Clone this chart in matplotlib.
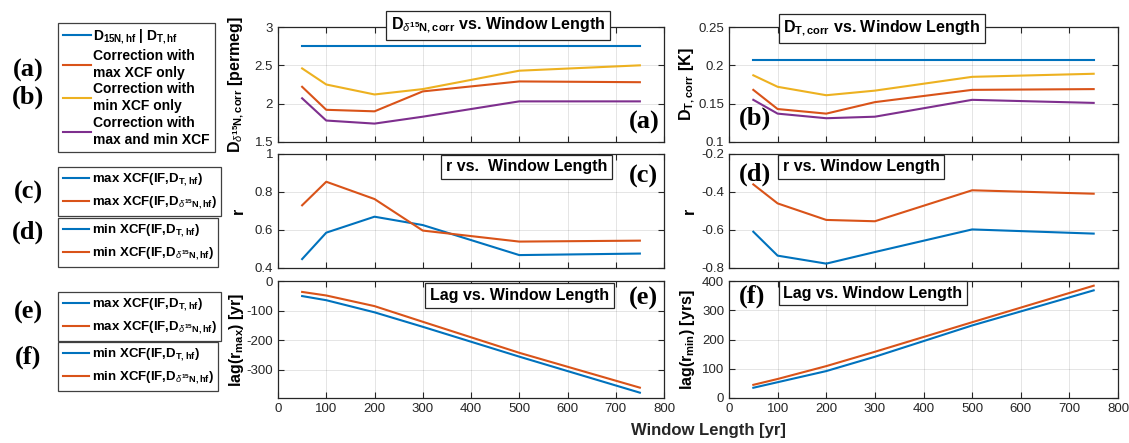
import matplotlib
matplotlib.use("Agg")
import matplotlib.pyplot as plt
from matplotlib.lines import Line2D
from matplotlib.ticker import FuncFormatter, MultipleLocator

plt.rcParams['font.family'] = ['Liberation Sans', 'DejaVu Sans']
plt.rcParams['mathtext.fontset'] = 'custom'
plt.rcParams['mathtext.rm'] = 'Liberation Sans'
plt.rcParams['mathtext.bf'] = 'Liberation Sans:bold'
plt.rcParams['mathtext.it'] = 'Liberation Sans:italic'
plt.rcParams['mathtext.default'] = 'bf'
plt.rcParams['axes.unicode_minus'] = False

# ---------------- data ----------------
window = [50, 100, 200, 300, 500, 750]

# (a) D_delta15N,corr [permeg]
d15_hf = [2.75, 2.75, 2.75, 2.75, 2.75, 2.75]
d15_max = [2.22, 1.92, 1.90, 2.16, 2.29, 2.28]
d15_min = [2.46, 2.25, 2.12, 2.19, 2.43, 2.50]
d15_both = [2.07, 1.78, 1.74, 1.83, 2.03, 2.03]

# (b) D_T,corr [K]
dT_hf = [0.2076, 0.2076, 0.2076, 0.2076, 0.2076, 0.2076]
dT_max = [0.168, 0.143, 0.137, 0.152, 0.168, 0.169]
dT_min = [0.187, 0.172, 0.161, 0.167, 0.185, 0.189]
dT_both = [0.155, 0.137, 0.131, 0.133, 0.155, 0.151]

# (c) r of max XCF
r_max_T = [0.447, 0.586, 0.670, 0.626, 0.468, 0.476]
r_max_d15 = [0.730, 0.854, 0.763, 0.597, 0.539, 0.544]

# (d) r of min XCF
r_min_T = [-0.609, -0.735, -0.777, -0.716, -0.597, -0.619]
r_min_d15 = [-0.360, -0.460, -0.547, -0.554, -0.391, -0.409]

# (e) lag of r_max [yr]
lag_max_T = [-51, -65, -106, -155, -256, -378]
lag_max_d15 = [-37, -49, -85, -138, -243, -361]

# (f) lag of r_min [yrs]
lag_min_T = [35, 54, 92, 141, 248, 368]
lag_min_d15 = [45, 65, 109, 158, 259, 384]

xticks = [0, 100, 200, 300, 400, 500, 600, 700, 800]

# ---------------- style ----------------
C_BLUE = '#0072BD'
C_ORANGE = '#D95319'
C_YELLOW = '#EDB120'
C_PURPLE = '#7E2F8E'
LW = 1.5
TXT = '#262626'

W, H = 1129, 443
fig = plt.figure(figsize=(W / 100, H / 100), dpi=100)


def ax_at(x0, x1, y0, y1):
    return fig.add_axes([x0 / W, 1 - y1 / H, (x1 - x0) / W, (y1 - y0) / H])


LX = (278, 664)
RX = (729, 1118)
R1 = (27, 142)
R2 = (154, 268)
R3 = (281, 398)

axes = {
    'a': ax_at(*LX, *R1), 'b': ax_at(*RX, *R1),
    'c': ax_at(*LX, *R2), 'd': ax_at(*RX, *R2),
    'e': ax_at(*LX, *R3), 'f': ax_at(*RX, *R3),
}

fmt = FuncFormatter(lambda v, p: '%g' % round(v, 6))

for k, ax in axes.items():
    ax.set_xlim(0, 800)
    ax.set_xticks(xticks)
    ax.grid(True, color='#000000', alpha=0.12, linewidth=0.6)
    ax.tick_params(direction='in', top=True, right=True, labelsize=9.5,
                   colors=TXT, length=4, width=0.8)
    for s in ax.spines.values():
        s.set_color(TXT)
        s.set_linewidth(0.9)
    ax.yaxis.set_major_formatter(fmt)
    if k not in ('e', 'f'):
        ax.tick_params(labelbottom=False)

# (a)
ax = axes['a']
ax.plot(window, d15_hf, color=C_BLUE, lw=LW)
ax.plot(window, d15_max, color=C_ORANGE, lw=LW)
ax.plot(window, d15_min, color=C_YELLOW, lw=LW)
ax.plot(window, d15_both, color=C_PURPLE, lw=LW)
ax.set_ylim(1.5, 3)
ax.yaxis.set_major_locator(MultipleLocator(0.5))
ax.set_ylabel(r'D$_{\mathit{\delta}^{15}N,corr}$ [permeg]', fontsize=11.5, fontweight='bold')

# (b)
ax = axes['b']
ax.plot(window, dT_hf, color=C_BLUE, lw=LW)
ax.plot(window, dT_max, color=C_ORANGE, lw=LW)
ax.plot(window, dT_min, color=C_YELLOW, lw=LW)
ax.plot(window, dT_both, color=C_PURPLE, lw=LW)
ax.set_ylim(0.1, 0.25)
ax.yaxis.set_major_locator(MultipleLocator(0.05))
ax.set_ylabel(r'D$_{T,corr}$ [K]', fontsize=11.5, fontweight='bold')

# (c)
ax = axes['c']
ax.plot(window, r_max_T, color=C_BLUE, lw=LW)
ax.plot(window, r_max_d15, color=C_ORANGE, lw=LW)
ax.set_ylim(0.4, 1)
ax.yaxis.set_major_locator(MultipleLocator(0.2))
ax.set_ylabel('r', fontsize=11.5, fontweight='bold')

# (d)
ax = axes['d']
ax.plot(window, r_min_T, color=C_BLUE, lw=LW)
ax.plot(window, r_min_d15, color=C_ORANGE, lw=LW)
ax.set_ylim(-0.8, -0.2)
ax.yaxis.set_major_locator(MultipleLocator(0.2))
ax.set_ylabel('r', fontsize=11.5, fontweight='bold')

# (e)
ax = axes['e']
ax.plot(window, lag_max_T, color=C_BLUE, lw=LW)
ax.plot(window, lag_max_d15, color=C_ORANGE, lw=LW)
ax.set_ylim(-396, 0)
ax.set_yticks([-300, -200, -100, 0])
ax.set_ylabel(r'lag(r$_{max}$) [yr]', fontsize=11.5, fontweight='bold')

# (f)
ax = axes['f']
ax.plot(window, lag_min_T, color=C_BLUE, lw=LW)
ax.plot(window, lag_min_d15, color=C_ORANGE, lw=LW)
ax.set_ylim(0, 400)
ax.set_yticks([0, 100, 200, 300, 400])
ax.set_ylabel(r'lag(r$_{min}$) [yrs]', fontsize=11.5, fontweight='bold')

for ax in axes.values():
    ax.yaxis.set_label_coords(-0.082, 0.5)

# title boxes
box = dict(boxstyle='square,pad=0.3', facecolor='white', edgecolor=TXT, linewidth=0.9)
titles = {
    'a': (0.57, 1.012, r'D$_{\mathit{\delta}^{15}N,corr}$ vs. Window Length'),
    'b': (0.393, 0.987, r'D$_{T,corr}$ vs. Window Length'),
    'c': (0.645, 0.886, 'r vs.  Window Length'),
    'd': (0.34, 0.886, 'r vs. Window Length'),
    'e': (0.626, 0.876, 'Lag vs. Window Length'),
    'f': (0.37, 0.897, 'Lag vs. Window Length'),
}
for k, (x, y, t) in titles.items():
    axes[k].text(x, y, t, transform=axes[k].transAxes, ha='center', va='center',
                 fontsize=11.5, fontweight='bold', color='black', bbox=box, zorder=10)

# panel letters inside axes
letters = {
    'a': (0.95, 0.174), 'b': (0.067, 0.204), 'c': (0.948, 0.807),
    'd': (0.067, 0.825), 'e': (0.948, 0.855), 'f': (0.06, 0.872),
}
for k, (x, y) in letters.items():
    axes[k].text(x, y, '(%s)' % k, transform=axes[k].transAxes, ha='center', va='center',
                 fontsize=19, fontweight='bold', family='Liberation Serif', color='black', zorder=11)

# left-side letters
for lab, yc in [('a', 70), ('b', 97), ('c', 192), ('d', 232), ('e', 312), ('f', 357)]:
    fig.text(28 / W, 1 - yc / H, '(%s)' % lab, ha='center', va='center',
             fontsize=19, fontweight='bold', family='Liberation Serif')

# legends
def add_legend(labels, colors, top_y, spacing, size):
    handles = [Line2D([], [], color=c, lw=LW) for c in colors]
    lg = fig.legend(handles, labels, loc='upper left',
                    bbox_to_anchor=(58 / W, 1 - top_y / H), borderaxespad=0,
                    prop={'weight': 'bold', 'size': size}, fancybox=False,
                    edgecolor='#404040', framealpha=1, handlelength=2.0,
                    handletextpad=0.2, labelspacing=spacing, borderpad=0.35)
    lg.get_frame().set_linewidth(0.9)
    for t in lg.get_texts():
        t.set_linespacing(1.25)
    return lg

add_legend([r'D$_{15N,hf}$ | D$_{T,hf}$', 'Correction with\nmax XCF only',
            'Correction with\nmin XCF only', 'Correction with\nmax and min XCF'],
           [C_BLUE, C_ORANGE, C_YELLOW, C_PURPLE], 23, 0.2, 10)
add_legend([r'max XCF(IF,D$_{T,hf}$)', r'max XCF(IF,D$_{\mathit{\delta}^{15}N,hf}$)'],
           [C_BLUE, C_ORANGE], 167, 0.45, 9.5)
add_legend([r'min XCF(IF,D$_{T,hf}$)', r'min XCF(IF,D$_{\mathit{\delta}^{15}N,hf}$)'],
           [C_BLUE, C_ORANGE], 218, 0.45, 9.5)
add_legend([r'max XCF(IF,D$_{T,hf}$)', r'max XCF(IF,D$_{\mathit{\delta}^{15}N,hf}$)'],
           [C_BLUE, C_ORANGE], 292, 0.45, 9.5)
add_legend([r'min XCF(IF,D$_{T,hf}$)', r'min XCF(IF,D$_{\mathit{\delta}^{15}N,hf}$)'],
           [C_BLUE, C_ORANGE], 342, 0.45, 9.5)

fig.text(708 / W, 1 - 431 / H, 'Window Length [yr]', ha='center', va='center',
         fontsize=12, fontweight='bold', color=TXT)

fig.savefig('out.png', dpi=100)
